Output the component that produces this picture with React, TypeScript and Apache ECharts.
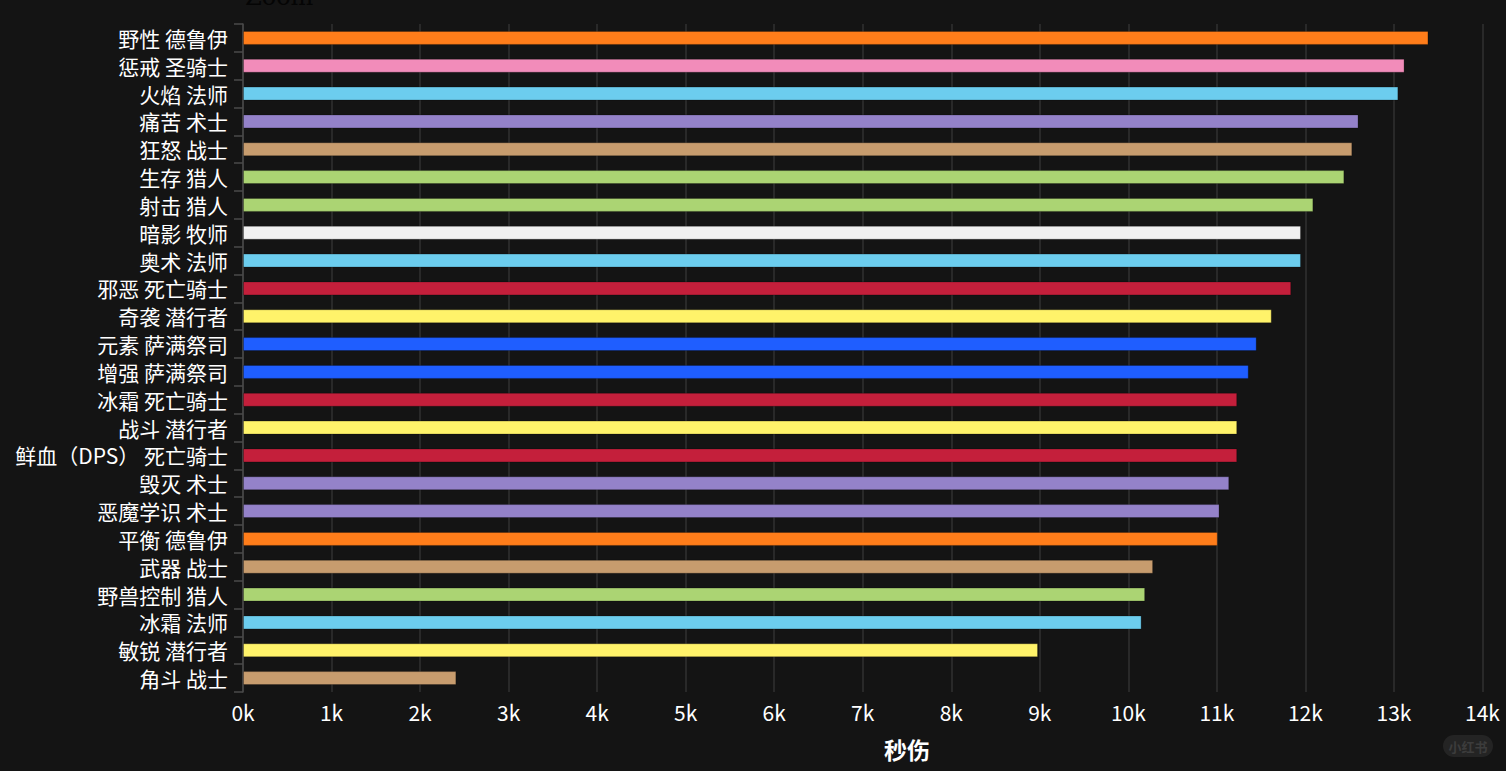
import React, { useEffect, useRef } from "react";
import * as echarts from "echarts";

const categories = [
  "野性 德鲁伊", "惩戒 圣骑士", "火焰 法师", "痛苦 术士", "狂怒 战士", "生存 猎人",
  "射击 猎人", "暗影 牧师", "奥术 法师", "邪恶 死亡骑士", "奇袭 潜行者", "元素 萨满祭司",
  "增强 萨满祭司", "冰霜 死亡骑士", "战斗 潜行者", "鲜血（DPS） 死亡骑士", "毁灭 术士",
  "恶魔学识 术士", "平衡 德鲁伊", "武器 战士", "野兽控制 猎人", "冰霜 法师", "敏锐 潜行者", "角斗 战士",
];

const dps = [
  13390, 13120, 13050, 12600, 12530, 12440,
  12090, 11950, 11950, 11840, 11620, 11450,
  11360, 11230, 11230, 11230, 11140,
  11030, 11010, 10280, 10190, 10150, 8980, 2410,
];

const barColors = [
  "#FF7D1A", "#F28CBA", "#6CCDEE", "#9482C9", "#C79C6E", "#ABD473",
  "#ABD473", "#F0F0F0", "#6CCDEE", "#C41F3B", "#FFF36A", "#1F5EFF",
  "#1F5EFF", "#C41F3B", "#FFF36A", "#C41F3B", "#9482C9",
  "#9482C9", "#FF7D1A", "#C79C6E", "#ABD473", "#6CCDEE", "#FFF36A", "#C79C6E",
];

const xTicks = ["0k", "1k", "2k", "3k", "4k", "5k", "6k", "7k", "8k", "9k", "10k", "11k", "12k", "13k", "14k"];

export default function App() {
  const ref = useRef<HTMLDivElement>(null);
  useEffect(() => {
    if (!ref.current) return;
    const chart = echarts.init(ref.current, null, { renderer: "svg" });
    chart.setOption({
      animation: false,
      backgroundColor: "#141414",
      textStyle: { fontFamily: "'Noto Sans CJK SC', 'Noto Sans', sans-serif" },
      grid: { left: 243, right: 69, top: 24, bottom: 79, containLabel: false },
      xAxis: {
        type: "value",
        min: 0,
        max: 15000,
        interval: 1000,
        name: "秒伤",
        nameLocation: "middle",
        nameGap: 45,
        nameTextStyle: { color: "#ffffff", fontSize: 23, fontWeight: "bold" },
        axisLine: { show: false },
        axisTick: { show: false },
        axisLabel: {
          color: "#ffffff",
          fontSize: 21,
          margin: 9,
          formatter: (v: number) => xTicks[Math.round(v / 1000)] ?? "",
        },
        splitLine: { show: true, lineStyle: { color: "#303030", width: 1.5 } },
      },
      yAxis: {
        type: "category",
        data: categories,
        inverse: true,
        axisLine: { show: true, lineStyle: { color: "#4a4a4a", width: 1.5 } },
        axisTick: { show: true, interval: 0, length: 9, lineStyle: { color: "#4a4a4a", width: 1.5 } },
        axisLabel: { color: "#ffffff", fontSize: 21, lineHeight: 22, margin: 15, interval: 0 },
        splitLine: { show: false },
      },
      series: [
        {
          type: "bar",
          barWidth: 14,
          data: dps.map((v, i) => ({
            value: v,
            itemStyle: { color: barColors[i], borderColor: "rgba(0,0,0,0.25)", borderWidth: 1 },
          })),
        },
      ],
      graphic: [
        {
          type: "text",
          left: 245,
          top: -15,
          style: { text: "Zoom", fill: "#050505", font: "24px 'DejaVu Serif', serif" },
        },
        {
          type: "group",
          left: 1443,
          top: 735,
          children: [
            { type: "rect", shape: { x: 0, y: 0, width: 50, height: 22, r: 11 }, style: { fill: "#242424" } },
            {
              type: "text",
              x: 25,
              y: 11,
              style: {
                text: "小红书",
                fill: "#3c3c3c",
                font: "bold 13px 'Noto Sans CJK SC', sans-serif",
                align: "center",
                verticalAlign: "middle",
              },
            },
          ],
        },
      ],
    });
    return () => chart.dispose();
  }, []);
  return (
    <div style={{ position: "fixed", left: 0, top: 0, width: 1506, height: 771, overflow: "hidden", background: "#141414" }}>
      <div ref={ref} style={{ width: 1640, height: 771 }} />
    </div>
  );
}
